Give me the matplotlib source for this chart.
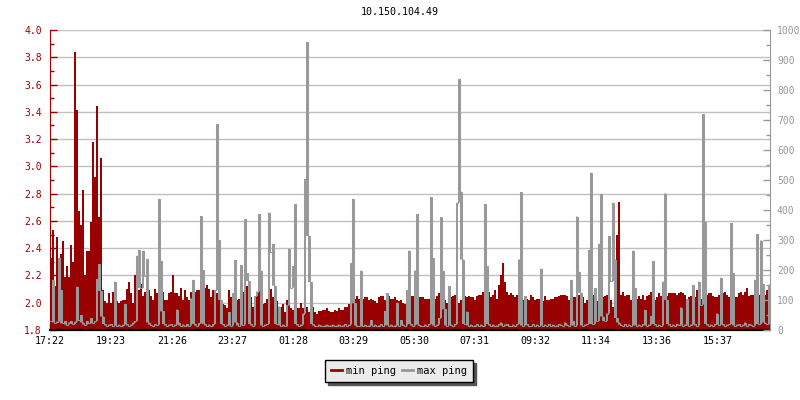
import numpy as np
import matplotlib
matplotlib.use("Agg")
import matplotlib.pyplot as plt
from matplotlib.lines import Line2D
from matplotlib.ticker import MultipleLocator, FormatStrFormatter

plt.rcParams['font.family'] = ['DejaVu Sans Mono']

title = "10.150.104.49"
bin_minutes = 4  # one sample every 4 minutes, starting at 17:22
start_label = "17:22"
tick_labels = ["17:22", "19:23", "21:26", "23:27", "01:28", "03:29",
               "05:30", "07:31", "09:32", "11:34", "13:36", "15:37"]

# min ping (ms), left axis
min_ping = [
    2.33, 2.53, 2.12, 2.48, 2.05, 2.36, 2.45, 2.19, 2.27, 2.19,
    2.42, 2.30, 3.84, 3.41, 2.67, 2.57, 2.83, 2.20, 2.38, 2.38,
    2.59, 3.18, 2.92, 3.44, 2.63, 3.06, 2.09, 2.01, 2.00, 2.07,
    2.00, 2.08, 2.01, 2.01, 2.00, 2.01, 2.02, 2.02, 2.10, 2.15,
    2.07, 2.00, 2.20, 2.09, 2.09, 2.14, 2.05, 2.08, 2.02, 2.09,
    2.05, 2.02, 2.10, 2.07, 2.02, 2.09, 2.08, 2.02, 2.02, 2.07,
    2.08, 2.20, 2.07, 2.07, 2.05, 2.11, 2.02, 2.09, 2.04, 2.02,
    2.08, 2.04, 2.08, 2.09, 2.09, 2.09, 2.10, 2.11, 2.13, 2.10,
    2.04, 2.09, 2.09, 2.07, 2.09, 2.01, 1.99, 1.98, 1.96, 2.09,
    2.04, 2.06, 2.06, 2.02, 2.03, 2.06, 2.08, 2.01, 2.12, 2.04,
    2.04, 1.97, 1.95, 2.08, 2.09, 1.97, 1.99, 2.00, 2.03, 2.04,
    2.10, 2.04, 2.12, 2.01, 1.93, 1.97, 1.99, 1.93, 2.02, 2.00,
    1.96, 1.95, 1.95, 1.96, 1.96, 2.00, 1.96, 1.96, 1.97, 1.93,
    1.97, 1.97, 1.93, 1.92, 1.94, 1.94, 1.95, 1.95, 1.96, 1.94,
    1.93, 1.93, 1.95, 1.94, 1.96, 1.95, 1.95, 1.97, 1.97, 1.99,
    2.04, 2.00, 2.03, 2.05, 2.03, 2.02, 2.03, 2.04, 2.04, 2.02,
    2.03, 2.02, 2.01, 2.00, 2.04, 2.05, 2.05, 2.02, 2.05, 2.05,
    2.03, 2.03, 2.04, 2.02, 2.01, 2.02, 2.00, 1.99, 2.00, 2.02,
    2.05, 2.05, 2.04, 2.02, 2.04, 2.04, 2.04, 2.03, 2.03, 2.03,
    2.02, 2.02, 2.03, 2.05, 2.07, 2.06, 2.04, 2.02, 2.00, 2.01,
    2.04, 2.05, 2.06, 2.05, 2.00, 2.02, 2.05, 2.05, 2.04, 2.05,
    2.04, 2.04, 2.02, 2.05, 2.06, 2.06, 2.08, 2.07, 2.08, 2.08,
    2.04, 2.06, 2.09, 2.03, 2.13, 2.20, 2.29, 2.15, 2.08, 2.06,
    2.07, 2.06, 2.04, 2.06, 2.02, 2.02, 2.02, 2.05, 2.03, 2.02,
    2.06, 2.04, 2.02, 2.03, 2.03, 2.03, 2.01, 2.05, 2.02, 2.02,
    2.03, 2.03, 2.04, 2.04, 2.05, 2.06, 2.06, 2.06, 2.05, 2.02,
    2.04, 2.04, 2.04, 2.03, 2.06, 2.05, 2.04, 2.00, 2.02, 2.07,
    2.02, 2.06, 2.06, 2.01, 2.04, 2.05, 2.04, 2.05, 2.06, 2.01,
    2.02, 1.97, 2.20, 2.50, 2.74, 2.06, 2.08, 2.05, 2.06, 2.06,
    2.02, 2.04, 2.02, 2.03, 2.05, 2.03, 2.06, 2.02, 2.05, 2.06,
    2.08, 2.01, 2.02, 2.04, 2.07, 2.05, 2.00, 2.07, 2.05, 2.07,
    2.07, 2.07, 2.07, 2.06, 2.07, 2.08, 2.07, 2.06, 2.02, 2.04,
    2.05, 2.05, 2.04, 2.09, 2.05, 2.03, 2.02, 2.02, 2.06, 2.07,
    2.07, 2.05, 2.04, 2.04, 2.06, 2.07, 2.07, 2.08, 2.06, 2.04,
    2.05, 2.05, 2.04, 2.04, 2.07, 2.08, 2.06, 2.08, 2.11, 2.05,
    2.06, 2.06, 2.08, 2.05, 2.06, 2.03, 2.07, 2.06, 2.09, 2.06,
]

# max ping (ms), right axis
max_ping = [
    30, 167, 25, 28, 240, 133, 22, 30, 18, 25,
    30, 20, 28, 144, 35, 50, 25, 18, 30, 22,
    40, 25, 30, 170, 220, 130, 45, 20, 15, 18,
    20, 15, 161, 15, 18, 12, 18, 87, 20, 15,
    18, 25, 30, 247, 267, 140, 263, 180, 237, 25,
    18, 15, 20, 18, 437, 230, 62, 20, 15, 18,
    20, 15, 18, 68, 25, 15, 18, 12, 20, 15,
    105, 167, 20, 15, 22, 380, 200, 20, 15, 18,
    12, 20, 133, 687, 300, 100, 20, 15, 18, 60,
    15, 122, 233, 25, 15, 216, 18, 370, 189, 163,
    20, 15, 113, 128, 386, 198, 15, 18, 20, 391,
    259, 287, 148, 20, 78, 15, 18, 12, 83, 271,
    141, 213, 420, 20, 15, 18, 55, 503, 960, 313,
    159, 20, 15, 12, 18, 15, 12, 15, 18, 12,
    15, 18, 12, 15, 18, 12, 15, 20, 15, 18,
    222, 437, 89, 15, 12, 198, 15, 18, 12, 15,
    33, 15, 18, 12, 15, 20, 15, 63, 122, 15,
    18, 12, 15, 91, 15, 33, 18, 15, 133, 264,
    20, 15, 198, 386, 18, 15, 12, 18, 15, 20,
    442, 239, 15, 18, 40, 376, 198, 69, 15, 147,
    18, 15, 20, 424, 837, 461, 235, 20, 61, 15,
    18, 12, 15, 20, 15, 18, 12, 420, 213, 20,
    15, 18, 12, 15, 20, 25, 15, 18, 20, 15,
    12, 18, 15, 20, 235, 459, 15, 113, 20, 15,
    15, 20, 15, 18, 15, 204, 15, 18, 15, 20,
    15, 18, 12, 15, 20, 18, 15, 25, 18, 15,
    167, 30, 15, 378, 194, 124, 15, 18, 20, 267,
    524, 20, 139, 30, 287, 453, 45, 30, 55, 313,
    163, 424, 235, 40, 25, 18, 15, 20, 15, 18,
    15, 264, 139, 15, 18, 15, 20, 67, 15, 18,
    47, 230, 20, 15, 18, 15, 161, 455, 100, 20,
    15, 18, 15, 20, 18, 75, 15, 18, 102, 15,
    18, 150, 20, 15, 161, 85, 720, 361, 20, 15,
    18, 15, 20, 55, 18, 174, 20, 15, 18, 20,
    356, 189, 15, 18, 20, 15, 18, 25, 15, 20,
    18, 15, 167, 319, 20, 298, 153, 25, 20, 150,
]

RED = "#990000"
GREY = "#999999"


def minutes_since(label, start):
    h, m = map(int, label.split(":"))
    sh, sm = map(int, start.split(":"))
    return ((h * 60 + m) - (sh * 60 + sm)) % 1440


edges = np.arange(len(min_ping) + 1) * bin_minutes
tick_pos = [minutes_since(t, start_label) for t in tick_labels]

fig = plt.figure(figsize=(8, 4), dpi=100)
ax = fig.add_axes([0.0625, 0.175, 0.9, 0.75])

ax.stairs(min_ping, edges, baseline=1.8, fill=True, color=RED, lw=0)
ax.set_xlim(edges[0], edges[-1])
ax.set_ylim(1.8, 4.0)
ax.yaxis.set_major_locator(MultipleLocator(0.2))
ax.yaxis.set_minor_locator(MultipleLocator(0.1))
ax.yaxis.set_major_formatter(FormatStrFormatter("%.1f"))
ax.grid(axis="y", color="#c0c0c0", lw=1)
ax.set_axisbelow(True)
ax.set_xticks(tick_pos)
ax.set_xticklabels(tick_labels)

ax.tick_params(axis="y", which="major", direction="in", length=5, width=1,
               colors=RED, labelsize=7, pad=6)
ax.tick_params(axis="y", which="minor", direction="in", length=3, width=1, colors=RED)
ax.tick_params(axis="x", direction="in", length=4, width=1, colors="black",
               labelsize=7.2, pad=4)
ax.spines["left"].set_color(RED)
ax.spines["bottom"].set_color("black")
ax.spines["bottom"].set_linewidth(1.6)
ax.spines["top"].set_visible(False)
ax.spines["right"].set_visible(False)

# max ping as a thin step line; the inside of each step is filled so that
# narrow spikes look solid, as in the original rrd-style graph
ax2 = ax.twinx()
g = np.array(max_ping, dtype=float)
prev_g = np.r_[g[0], g[:-1]]
next_g = np.r_[g[1:], g[-1]]
lower = np.minimum(g, np.minimum(prev_g, next_g))
ax2.stairs(g, edges, baseline=lower, fill=True, color=GREY, lw=0)
ax2.stairs(g, edges, baseline=None, color=GREY, lw=0.75)
ax2.set_ylim(0, 1000)
ax2.yaxis.set_major_locator(MultipleLocator(100))
ax2.yaxis.set_minor_locator(MultipleLocator(50))
ax2.tick_params(axis="y", which="major", direction="in", length=5, width=1,
                colors=GREY, labelsize=7, pad=5)
ax2.tick_params(axis="y", which="minor", direction="in", length=3, width=1, colors=GREY)
for s in ("left", "top", "bottom"):
    ax2.spines[s].set_visible(False)
ax2.spines["right"].set_color(GREY)

fig.text(0.5, 1 - 12 / 400, title, ha="center", va="center", fontsize=7.2)

handles = [Line2D([], [], color=RED, lw=2), Line2D([], [], color=GREY, lw=2)]
fig.legend(handles, ["min ping", "max ping"], loc="center",
           bbox_to_anchor=(0.499, 0.0725), ncol=2, frameon=True, fancybox=False,
           shadow={"color": "#555555", "alpha": 1}, edgecolor="black",
           facecolor="#ebebeb", framealpha=1, handlelength=1.0,
           handletextpad=0.4, columnspacing=0.6, borderpad=0.6,
           prop={"size": 7.5})

fig.savefig("out.png", dpi=100)
